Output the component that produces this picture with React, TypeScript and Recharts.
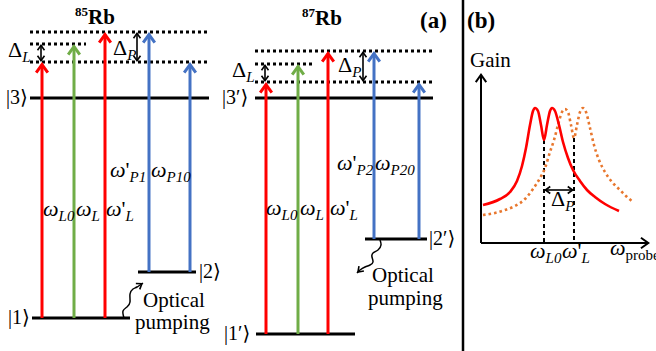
import { ComposedChart, XAxis, YAxis, Line, Scatter, ReferenceLine } from "recharts";

const W = 656;
const H = 351;
const SERIF = "Liberation Serif, Tinos, DejaVu Serif, serif";

// ---- panel (a): level diagrams, in picture units (x right, y down) ----
const levels = [
  { x1: 30, x2: 209, y: 98 }, // |3>
  { x1: 32, x2: 130, y: 318 }, // |1>
  { x1: 138, x2: 196, y: 272 }, // |2>
  { x1: 255, x2: 433, y: 98 }, // |3'>
  { x1: 256, x2: 355, y: 334 }, // |1'>
  { x1: 365, x2: 427, y: 239 }, // |2'>
];

const virtualLevels = [
  { x1: 30, x2: 209, y: 32 },
  { x1: 30, x2: 86, y: 44 },
  { x1: 30, x2: 209, y: 62 },
  { x1: 255, x2: 433, y: 51 },
  { x1: 255, x2: 312, y: 64 },
  { x1: 255, x2: 433, y: 82 },
];

const beams = [
  { x: 42, from: 318, to: 62, beam: "L0" },
  { x: 74, from: 318, to: 44, beam: "L" },
  { x: 105, from: 318, to: 32, beam: "Lp" },
  { x: 149, from: 272, to: 32, beam: "Pp" },
  { x: 190, from: 272, to: 62, beam: "P0" },
  { x: 266, from: 334, to: 82, beam: "L0" },
  { x: 298, from: 334, to: 64, beam: "L" },
  { x: 328, from: 334, to: 51, beam: "Lp" },
  { x: 374, from: 239, to: 51, beam: "Pp" },
  { x: 419, from: 239, to: 82, beam: "P0" },
];

const detunings = [
  { x1: 41, y1: 44, x2: 41, y2: 62 },
  { x1: 137, y1: 32, x2: 137, y2: 62 },
  { x1: 265, y1: 64, x2: 265, y2: 82 },
  { x1: 363, y1: 51, x2: 363, y2: 82 },
  { x1: 544, y1: 190, x2: 574, y2: 190 },
];

const pumping85 = [
  { x: 124, y: 318 }, { x: 123, y: 311 }, { x: 127, y: 307 }, { x: 130, y: 302 },
  { x: 130, y: 294 }, { x: 133, y: 289 }, { x: 137, y: 287 }, { x: 143, y: 283 },
];
const pumping87 = [
  { x: 380, y: 240 }, { x: 381, y: 245 }, { x: 378, y: 250 }, { x: 373, y: 253 },
  { x: 372, y: 257 }, { x: 373, y: 262 }, { x: 370, y: 265 }, { x: 365, y: 267 },
  { x: 360, y: 270 }, { x: 357, y: 273 },
];

// ---- panel (b): gain against probe frequency ----
const gainSolid = [
  { x: 483, y: 205 }, { x: 500, y: 199 }, { x: 510, y: 192 }, { x: 517, y: 181 },
  { x: 522, y: 166 }, { x: 526, y: 148 }, { x: 530, y: 125 }, { x: 533, y: 111 },
  { x: 535, y: 108 }, { x: 538, y: 111 }, { x: 541, y: 125 }, { x: 544, y: 140 },
  { x: 547, y: 125 }, { x: 550, y: 111 }, { x: 552, y: 108 }, { x: 555, y: 111 },
  { x: 559, y: 125 }, { x: 563, y: 142 }, { x: 568, y: 158 }, { x: 573, y: 170 },
  { x: 580, y: 181 }, { x: 587, y: 190 }, { x: 595, y: 197 }, { x: 605, y: 204 },
  { x: 619, y: 211 },
];
const gainShifted = [
  { x: 483, y: 215 }, { x: 495, y: 213 }, { x: 505, y: 210 }, { x: 515, y: 206 },
  { x: 525, y: 199 }, { x: 533, y: 189 }, { x: 540, y: 178 }, { x: 545, y: 168 },
  { x: 550, y: 152 }, { x: 554, y: 140 }, { x: 558, y: 125 }, { x: 562, y: 112 },
  { x: 565, y: 109 }, { x: 568, y: 112 }, { x: 571, y: 125 }, { x: 574, y: 138 },
  { x: 577, y: 125 }, { x: 580, y: 112 }, { x: 583, y: 108 }, { x: 586, y: 112 },
  { x: 590, y: 128 }, { x: 594, y: 145 }, { x: 599, y: 160 }, { x: 605, y: 172 },
  { x: 612, y: 182 }, { x: 620, y: 190 }, { x: 627, y: 197 }, { x: 633, y: 202 },
];
const gainAxes = [
  { x1: 481, y1: 243, x2: 481, y2: 73 },
  { x1: 481, y1: 243, x2: 650, y2: 243 },
];
const resonances = [
  { x: 544, top: 140, bottom: 243 },
  { x: 574, top: 138, bottom: 243 },
];

const labels = [
  { x: 75, y: 24, t: "^{85}Rb", kind: "title" },
  { x: 302, y: 25, t: "^{87}Rb", kind: "title" },
  { x: 420, y: 28, t: "(a)", kind: "tag" },
  { x: 467, y: 28, t: "(b)", kind: "tag" },
  { x: 6, y: 104, t: "|3⟩", kind: "ket" },
  { x: 8, y: 324, t: "|1⟩", kind: "ket" },
  { x: 199, y: 278, t: "|2⟩", kind: "ket" },
  { x: 222, y: 104, t: "|3′⟩", kind: "ket" },
  { x: 224, y: 340, t: "|1′⟩", kind: "ket" },
  { x: 429, y: 245, t: "|2′⟩", kind: "ket" },
  { x: 8, y: 57, t: "Δ_{L}", kind: "math" },
  { x: 113, y: 55, t: "Δ_{P}", kind: "math" },
  { x: 232, y: 77, t: "Δ_{L}", kind: "math" },
  { x: 338, y: 72, t: "Δ_{P}", kind: "math" },
  { x: 551, y: 206, t: "Δ_{P}", kind: "math" },
  { x: 43, y: 216, t: "ω_{L0}", kind: "math" },
  { x: 76, y: 216, t: "ω_{L}", kind: "math" },
  { x: 106, y: 216, t: "ω'_{L}", kind: "math" },
  { x: 110, y: 177, t: "ω'_{P1}", kind: "math" },
  { x: 151, y: 177, t: "ω_{P10}", kind: "math" },
  { x: 266, y: 215, t: "ω_{L0}", kind: "math" },
  { x: 300, y: 215, t: "ω_{L}", kind: "math" },
  { x: 330, y: 215, t: "ω'_{L}", kind: "math" },
  { x: 337, y: 170, t: "ω'_{P2}", kind: "math" },
  { x: 375, y: 170, t: "ω_{P20}", kind: "math" },
  { x: 530, y: 258, t: "ω_{L0}", kind: "math" },
  { x: 562, y: 258, t: "ω'_{L}", kind: "math" },
  { x: 610, y: 255, t: "ω_{probe}", kind: "axis" },
  { x: 470, y: 67, t: "Gain", kind: "text" },
  { x: 143, y: 307, t: "Optical", kind: "text" },
  { x: 135, y: 329, t: "pumping", kind: "text" },
  { x: 372, y: 282, t: "Optical", kind: "text" },
  { x: 368, y: 305, t: "pumping", kind: "text" },
];

const beamColor: Record<string, string> = {
  L0: "#ff0000",
  L: "#70ad47",
  Lp: "#ff0000",
  Pp: "#4472c4",
  P0: "#4472c4",
};

const kindStyle: Record<string, any> = {
  title: { size: 21, bold: true, small: 13, shift: 8, subItalic: false },
  tag: { size: 23, bold: true, small: 14, shift: 5, subItalic: false },
  ket: { size: 20, bold: false, small: 14, shift: 5, subItalic: false },
  math: { size: 22, bold: false, small: 15, shift: 5, subItalic: true },
  axis: { size: 22, bold: false, small: 15, shift: 5, subItalic: false },
  text: { size: 21, bold: false, small: 14, shift: 5, subItalic: false },
};

function chevron(x: number, y: number, ang: number, len: number, spread: number) {
  const a1 = ang + Math.PI - spread;
  const a2 = ang + Math.PI + spread;
  return `${x + len * Math.cos(a1)},${y + len * Math.sin(a1)} ${x},${y} ${x + len * Math.cos(a2)},${y + len * Math.sin(a2)}`;
}

// line with open V heads; drawn from the reference line end points
const arrow = (color: string, w: number, len: number, both: boolean, headOnly = false) => (p: any) => {
  const { x1, y1, x2, y2 } = p;
  const ang = Math.atan2(y2 - y1, x2 - x1);
  const spread = 0.62;
  const back = w / 2 / Math.sin(spread);
  const tx = x2 - back * Math.cos(ang);
  const ty = y2 - back * Math.sin(ang);
  const sx = both ? x1 + back * Math.cos(ang) : x1;
  const sy = both ? y1 + back * Math.sin(ang) : y1;
  return (
    <g>
      {!headOnly && <line x1={sx} y1={sy} x2={tx} y2={ty} stroke={color} strokeWidth={w} />}
      <polyline points={chevron(tx, ty, ang, len, spread)} fill="none" stroke={color} strokeWidth={w} />
      {both && <polyline points={chevron(sx, sy, ang + Math.PI, len, spread)} fill="none" stroke={color} strokeWidth={w} />}
    </g>
  );
};

function RichLabel(props: any) {
  const { cx, cy, payload } = props;
  const st = kindStyle[payload.kind];
  const segs: { text: string; level: number }[] = [];
  const re = /([_^])\{([^}]*)\}|([^_^]+)/g;
  let m: RegExpExecArray | null;
  while ((m = re.exec(payload.t))) {
    if (m[3]) segs.push({ text: m[3], level: 0 });
    else segs.push({ text: m[2], level: m[1] === "_" ? 1 : -1 });
  }
  const spans: any[] = [];
  let off = 0;
  segs.forEach((s, i) => {
    const target = s.level * st.shift;
    if (s.level === 0) {
      Array.from(s.text).forEach((ch, j) => {
        spans.push(
          <tspan key={`${i}-${j}`} dy={j === 0 ? target - off : 0} style={{ fontStyle: ch === "ω" ? "italic" : "normal" }}>
            {ch}
          </tspan>
        );
      });
    } else {
      spans.push(
        <tspan key={i} dy={target - off} style={{ fontSize: st.small, fontStyle: st.subItalic ? "italic" : "normal" }}>
          {s.text}
        </tspan>
      );
    }
    off = target;
  });
  return (
    <text
      x={cx}
      y={cy}
      fill="#000"
      style={{ fontFamily: SERIF, fontSize: st.size, fontWeight: st.bold ? "bold" : "normal" }}
    >
      {spans}
    </text>
  );
}

export default function App() {
  return (
    <div style={{ position: "absolute", left: 0, top: 0, width: W, height: H, background: "#fff", fontFamily: SERIF }}>
      <ComposedChart width={W} height={H} margin={{ top: 0, right: 0, bottom: 0, left: 0 }}>
        <XAxis type="number" dataKey="x" domain={[0, W]} hide allowDataOverflow />
        <YAxis type="number" dataKey="y" domain={[0, H]} reversed hide allowDataOverflow />

        {virtualLevels.map((v, i) => (
          <ReferenceLine key={`v${i}`} segment={[{ x: v.x1, y: v.y }, { x: v.x2, y: v.y }]} stroke="#000" strokeWidth={3} strokeDasharray="3 3" />
        ))}
        {levels.map((l, i) => (
          <ReferenceLine key={`l${i}`} segment={[{ x: l.x1, y: l.y }, { x: l.x2, y: l.y }]} stroke="#000" strokeWidth={3} />
        ))}
        {beams.map((b, i) => (
          <ReferenceLine key={`b${i}`} segment={[{ x: b.x, y: b.from }, { x: b.x, y: b.to }]} shape={arrow(beamColor[b.beam], 3, 10, false)} />
        ))}
        {detunings.map((d, i) => (
          <ReferenceLine key={`d${i}`} segment={[{ x: d.x1, y: d.y1 }, { x: d.x2, y: d.y2 }]} shape={arrow("#000", 1.6, 6, true)} />
        ))}

        <Line data={pumping85} dataKey="y" type="natural" stroke="#000" strokeWidth={1.5} dot={false} isAnimationActive={false} />
        <Line data={pumping87} dataKey="y" type="natural" stroke="#000" strokeWidth={1.5} dot={false} isAnimationActive={false} />
        <ReferenceLine
          segment={[pumping85[pumping85.length - 2], pumping85[pumping85.length - 1]]}
          shape={arrow("#000", 1.6, 6, false, true)}
        />
        <ReferenceLine
          segment={[pumping87[pumping87.length - 2], pumping87[pumping87.length - 1]]}
          shape={arrow("#000", 1.6, 6, false, true)}
        />

        <ReferenceLine segment={[{ x: 463, y: 0 }, { x: 463, y: H }]} stroke="#000" strokeWidth={2.5} />

        {gainAxes.map((a, i) => (
          <ReferenceLine key={`a${i}`} segment={[{ x: a.x1, y: a.y1 }, { x: a.x2, y: a.y2 }]} shape={arrow("#000", 2, 9, false)} />
        ))}
        {resonances.map((r, i) => (
          <ReferenceLine key={`r${i}`} segment={[{ x: r.x, y: r.top }, { x: r.x, y: r.bottom }]} stroke="#000" strokeWidth={2} strokeDasharray="4 3" />
        ))}
        <Line data={gainShifted} dataKey="y" type="monotone" stroke="#e8772e" strokeWidth={2.6} strokeDasharray="2.6 3" dot={false} isAnimationActive={false} />
        <Line data={gainSolid} dataKey="y" type="monotone" stroke="#ff0000" strokeWidth={2.6} dot={false} isAnimationActive={false} />

        <Scatter data={labels} dataKey="y" shape={(p: any) => <RichLabel {...p} />} isAnimationActive={false} />
      </ComposedChart>
    </div>
  );
}
